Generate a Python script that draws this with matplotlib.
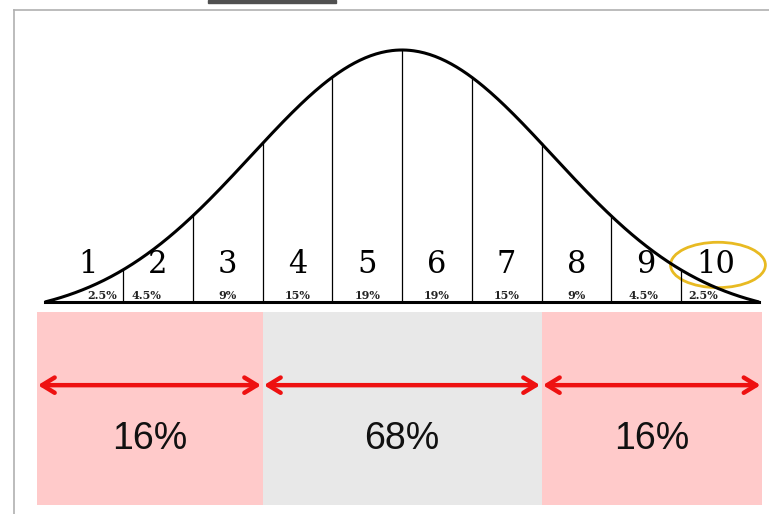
import numpy as np
import matplotlib.pyplot as plt
from matplotlib.patches import Ellipse, Rectangle

# sten scores and share of people in each band
stens = [str(i) for i in range(1, 11)]
shares = ['2.5%', '4.5%', '9%', '15%', '19%', '19%', '15%', '9%', '4.5%', '2.5%']
bounds = [-2.0, -1.5, -1.0, -0.5, 0.0, 0.5, 1.0, 1.5, 2.0]   # in SD units
group_edges = [-2.62, -1.0, 1.0, 2.58]
group_labels = ['16%', '68%', '16%']
group_colors = ['#ffcaca', '#e8e8e8', '#ffcaca']

sigma = 1.08
z_end = 2.56


def bell(z):
    g = np.exp(-0.5 * (z / sigma) ** 2)
    g0 = np.exp(-0.5 * (z_end / sigma) ** 2)
    return (g - g0) / (1 - g0)


fig = plt.figure(figsize=(7.69, 5.14), dpi=100)
ax = fig.add_axes([0, 0, 1, 1])
ax.set_xlim(-402 / 139.5, (769 - 402) / 139.5)
ax.set_ylim(-(514 - 302) / 252, 302 / 252)
ax.axis('off')

# frame of the slide
fig.add_artist(plt.Line2D([14 / 769, 14 / 769], [0, 1 - 10 / 514], color='#b0b0b0', lw=1.2,
                          transform=fig.transFigure))
fig.add_artist(plt.Line2D([14 / 769, 1], [1 - 10 / 514, 1 - 10 / 514], color='#b0b0b0', lw=1.2,
                          transform=fig.transFigure))
fig.add_artist(Rectangle((208 / 769, 1 - 3 / 514), 128 / 769, 3 / 514, color='#505050',
                         transform=fig.transFigure))

# bell curve
z = np.linspace(-z_end, z_end, 400)
ax.plot(z, bell(z), color='black', lw=2.2, solid_capstyle='butt')
ax.plot([-z_end, z_end], [0, 0], color='black', lw=2.2)
for b in bounds:
    ax.plot([b, b], [0, bell(b)], color='black', lw=0.9)

# sten numbers and shares
for i, (s, p) in enumerate(zip(stens, shares)):
    xc = -2.25 + 0.5 * i
    ax.text(xc, 0.147, s, ha='center', va='center', fontsize=22, family='DejaVu Serif')
    xp = xc
    if i == 0:
        xp += 0.1
    elif i == 9:
        xp -= 0.09
    elif i == 1:
        xp -= 0.08
    elif i == 8:
        xp -= 0.02
    ax.text(xp, 0.024, p, ha='center', va='center', fontsize=8, fontweight='bold',
            family='DejaVu Serif', color='#222222')

ax.add_patch(Ellipse((2.265, 0.147), 0.68, 0.18, fill=False, edgecolor='#e8ba22', lw=2))

# lower bands with arrows
y_top, y_bot = -0.04, -0.806
for k, lab in enumerate(group_labels):
    x0, x1 = group_edges[k], group_edges[k + 1]
    ax.add_patch(Rectangle((x0, y_bot), x1 - x0, y_top - y_bot, color=group_colors[k], lw=0))
    ax.annotate('', xy=(x1, -0.33), xytext=(x0, -0.33),
                arrowprops=dict(arrowstyle='<->,head_length=0.9,head_width=0.55',
                                color='#ee1111', lw=3.2, shrinkA=1, shrinkB=1))
    ax.text((x0 + x1) / 2, -0.545, lab, ha='center', va='center', fontsize=27,
            family='Liberation Sans', color='#111111')

fig.savefig('out.png', dpi=100)
